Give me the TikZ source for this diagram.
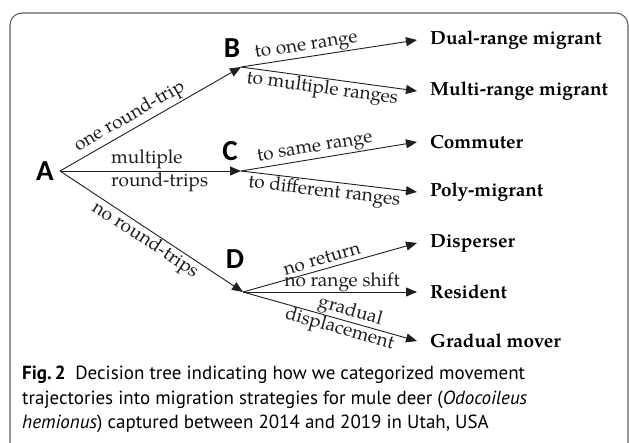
\documentclass[tikz,border=0pt]{standalone}
\usepackage{fontspec}
\usetikzlibrary{arrows.meta,positioning}
\newfontfamily\capfont{PT Sans}
\newfontfamily\letfont{Carlito}
\newfontfamily\pal{TeX Gyre Pagella}
\definecolor{fc}{RGB}{95,95,95}
\definecolor{lc}{RGB}{30,30,30}
\tikzset{let/.style={font=\letfont\bfseries\fontsize{29}{29}\selectfont,inner sep=0pt},
 leaf/.style={font=\pal\bfseries\fontsize{19}{19}\selectfont,anchor=west,inner sep=0pt},
 lbl/.style={font=\pal\fontsize{19}{23}\selectfont,inner sep=1pt,sloped},
 arr/.style={lc,-{Triangle[length=11pt,width=9pt]},line width=.9pt},
 frame/.style={draw=fc,line width=1.1pt,rounded corners=12pt}}
\begin{document}
\begin{tikzpicture}[x=1pt,y=-1pt]
\useasboundingbox (0,0) rectangle (629,442);
\draw[frame] (10,460) -- (10,13) -- (628,13) -- (628,460);
% root and decision points
\node[let] (A) at (45,171) {A};
\coordinate (a0) at (60,171);
\node[let] (B) at (232,48) {B};\coordinate (b0) at (241,67);
\node[let] (C) at (230,151) {C};\coordinate (c0) at (241,171);
\node[let] (D) at (235,259) {D};\coordinate (d0) at (243,292);
% end categories
\node[leaf] (dual) at (430,40) {Dual-range migrant};
\node[leaf] (multi) at (430,91) {Multi-range migrant};
\node[leaf] (comm) at (430,142) {Commuter};
\node[leaf] (poly) at (430,192) {Poly-migrant};
\node[leaf] (disp) at (430,243) {Disperser};
\node[leaf] (res) at (430,292) {Resident};
\node[leaf] (grad) at (430,341) {Gradual mover};
% first split
\draw[arr] (a0) -- (b0) node[lbl,above,pos=.42,inner sep=2pt] {one round-trip};
\draw[arr] (a0) -- (c0) node[font=\pal\fontsize{19}{23}\selectfont,align=left,anchor=west,inner sep=0pt,pos=.28] {multiple\\round-trips};
\draw[arr] (a0) -- (d0) node[lbl,below,pos=.5] {no round-trips};
% second split
\draw[arr] (b0) -- ([xshift=-13pt]dual.west) node[lbl,above,pos=.38] {to one range};
\draw[arr] (b0) -- ([xshift=-13pt]multi.west) node[lbl,below,pos=.47] {to multiple ranges};
\draw[arr] (c0) -- ([xshift=-13pt]comm.west) node[lbl,above,pos=.43] {to same range};
\draw[arr] (c0) -- ([xshift=-13pt]poly.west) node[lbl,below,pos=.48] {to different ranges};
\draw[arr] (d0) -- ([xshift=-13pt]disp.west) node[lbl,above,pos=.47,inner sep=4pt] {no return};
\draw[arr] (d0) -- ([xshift=-13pt]res.west) node[lbl,above,pos=.57,inner sep=0pt] {no range shift};
\draw[arr] (d0) -- ([xshift=-13pt]grad.west) node[lbl,above,pos=.6,inner sep=0pt] {gradual} node[lbl,below,pos=.57,inner sep=0pt] {displacement};
% caption
\node[anchor=north west,align=left,inner sep=0pt,font=\capfont\fontsize{19}{24.5}\selectfont] (cap) at (22,366)
 {\textbf{Fig.\,2}\enspace Decision tree indicating how we categorized movement\\
 trajectories into migration strategies for mule deer (\textit{Odocoileus}\\
 \textit{hemionus}) captured between 2014 and 2019 in Utah, USA};
\end{tikzpicture}
\end{document}
